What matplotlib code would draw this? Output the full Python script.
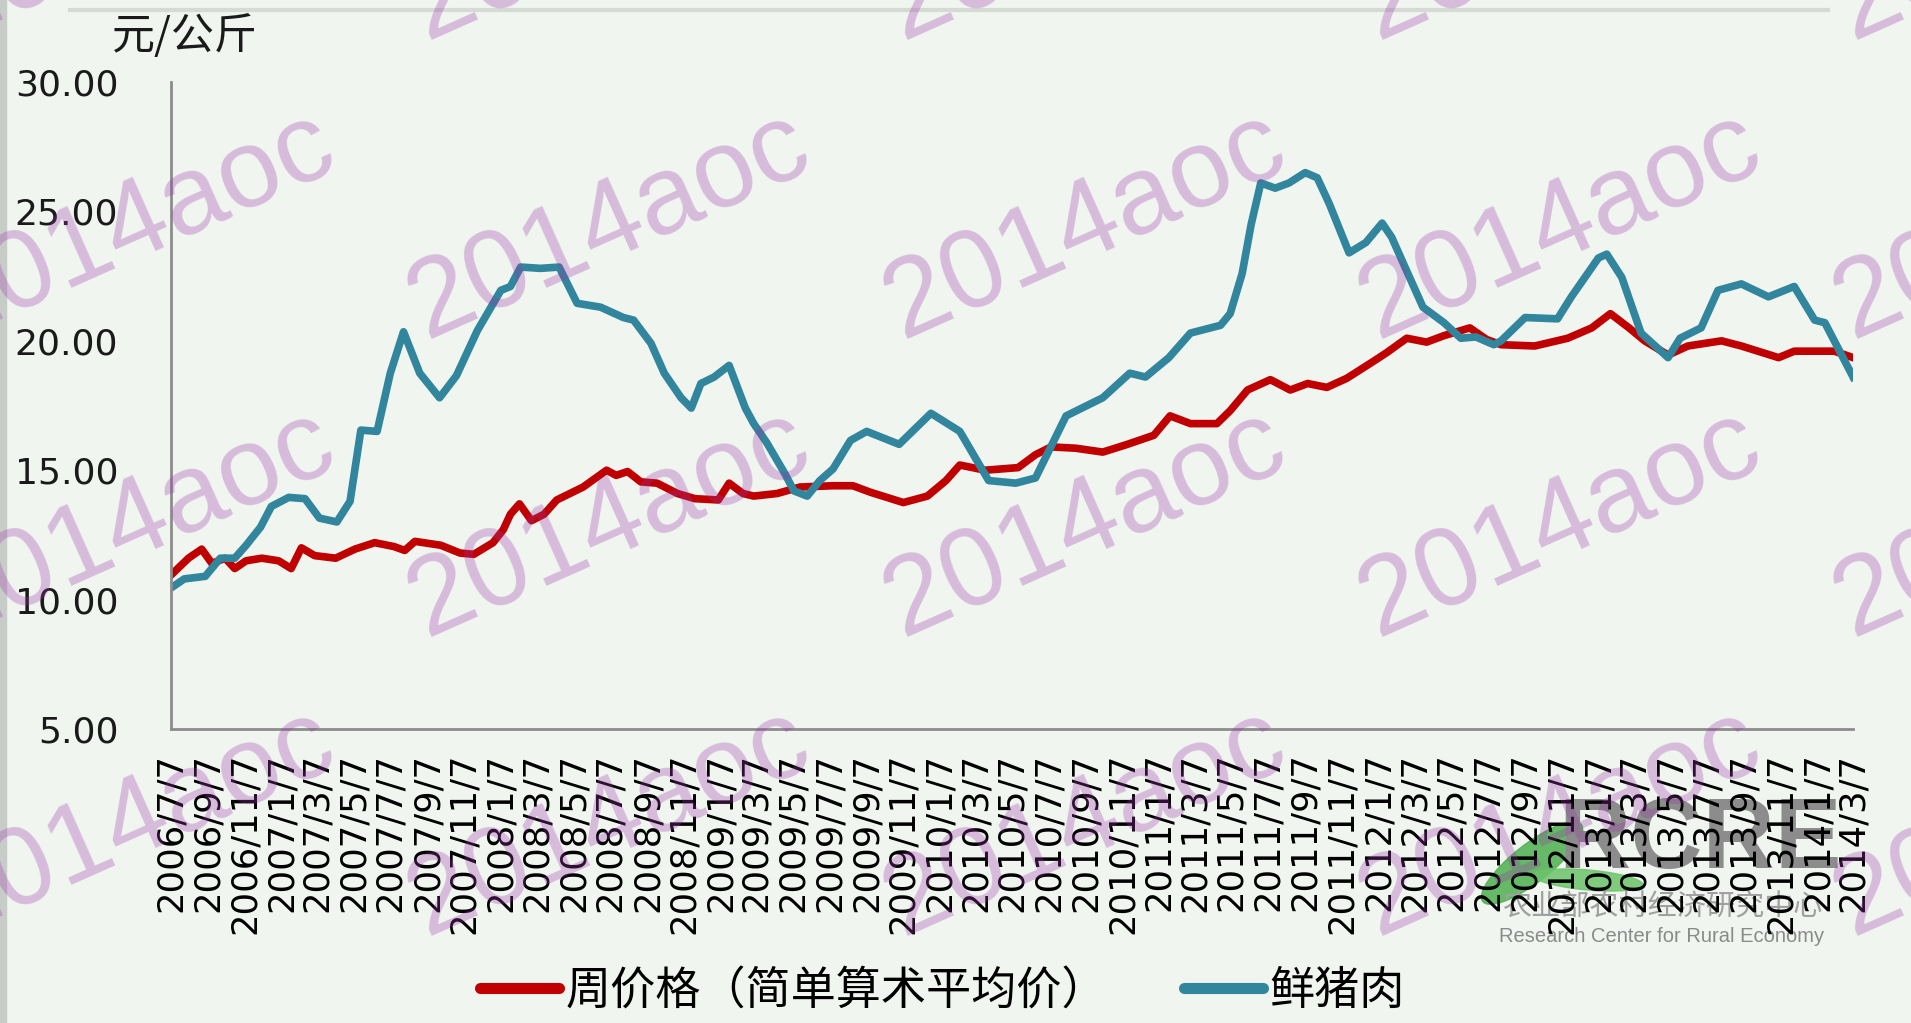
import matplotlib
matplotlib.use('Agg')
import matplotlib.pyplot as plt
import pandas as pd
from matplotlib.patches import Ellipse, Rectangle
from matplotlib.lines import Line2D
from matplotlib.transforms import IdentityTransform

# weekly pork prices
pork_dates = ['2006-07-07', '2006-07-29', '2006-09-02', '2006-09-27', '2006-10-21', '2006-11-09',
              '2006-12-03', '2006-12-21', '2007-01-19', '2007-02-15', '2007-03-11', '2007-04-09',
              '2007-05-01', '2007-05-19', '2007-06-15', '2007-07-07', '2007-07-29', '2007-08-25',
              '2007-09-27', '2007-10-25', '2007-11-29', '2008-01-07', '2008-01-23', '2008-02-09',
              '2008-03-13', '2008-04-13', '2008-05-13', '2008-06-21', '2008-07-29', '2008-08-15',
              '2008-09-13', '2008-10-05', '2008-11-02', '2008-11-19', '2008-12-05', '2008-12-27',
              '2009-01-21', '2009-02-17', '2009-03-03', '2009-03-25', '2009-04-23', '2009-05-09',
              '2009-05-31', '2009-06-21', '2009-07-13', '2009-08-11', '2009-09-07', '2009-10-31',
              '2009-12-23', '2010-02-09', '2010-03-29', '2010-05-13', '2010-06-15', '2010-08-05',
              '2010-10-05', '2010-11-19', '2010-12-15', '2011-01-23', '2011-02-28', '2011-04-19',
              '2011-05-05', '2011-05-25', '2011-06-09', '2011-06-25', '2011-07-19', '2011-08-11',
              '2011-09-07', '2011-09-27', '2011-10-17', '2011-11-19', '2011-12-17', '2012-01-13',
              '2012-01-29', '2012-02-21', '2012-03-21', '2012-04-25', '2012-05-23', '2012-06-17',
              '2012-07-17', '2012-07-29', '2012-09-07', '2012-10-31', '2012-11-23', '2013-01-07',
              '2013-01-21', '2013-02-15', '2013-03-19', '2013-05-03', '2013-05-23', '2013-06-27',
              '2013-07-25', '2013-09-02', '2013-10-17', '2013-11-29', '2014-01-02', '2014-01-19',
              '2014-03-07']
pork_vals = [10.45, 10.8, 10.9, 11.6, 11.6, 12.1,
             12.8, 13.6, 13.95, 13.9, 13.15, 13.0,
             13.8, 16.55, 16.5, 18.75, 20.35, 18.75,
             17.8, 18.65, 20.4, 21.95, 22.1, 22.85,
             22.8, 22.85, 21.45, 21.3, 20.9, 20.8,
             19.9, 18.75, 17.8, 17.4, 18.35, 18.6,
             19.05, 17.4, 16.8, 16.05, 14.9, 14.2,
             14.0, 14.6, 15.05, 16.15, 16.5, 16.0,
             17.2, 16.5, 14.6, 14.5, 14.7, 17.1,
             17.8, 18.75, 18.6, 19.35, 20.3, 20.6,
             21.05, 22.6, 24.5, 26.1, 25.9, 26.1,
             26.5, 26.3, 25.3, 23.4, 23.8, 24.55,
             24.0, 22.8, 21.3, 20.7, 20.1, 20.15,
             19.85, 20.0, 20.9, 20.85, 21.7, 23.2,
             23.35, 22.45, 20.3, 19.35, 20.1, 20.5,
             21.95, 22.2, 21.7, 22.1, 20.8, 20.7,
             18.6]

# weekly average price (simple arithmetic mean)
avg_dates = ['2006-07-07', '2006-08-05', '2006-08-27', '2006-09-13', '2006-10-05', '2006-10-21',
             '2006-11-09', '2006-12-05', '2007-01-02', '2007-01-23', '2007-02-09', '2007-03-03',
             '2007-04-07', '2007-05-09', '2007-06-11', '2007-07-13', '2007-07-31', '2007-08-17',
             '2007-09-29', '2007-10-31', '2007-11-23', '2007-12-25', '2008-01-11', '2008-01-23',
             '2008-02-07', '2008-02-27', '2008-03-19', '2008-04-09', '2008-05-23', '2008-07-01',
             '2008-07-17', '2008-08-05', '2008-08-27', '2008-09-23', '2008-10-27', '2008-11-25',
             '2009-01-03', '2009-01-21', '2009-02-13', '2009-03-03', '2009-04-11', '2009-05-19',
             '2009-07-13', '2009-08-15', '2009-09-13', '2009-11-07', '2009-12-17', '2010-01-17',
             '2010-02-09', '2010-03-23', '2010-05-17', '2010-06-15', '2010-07-11', '2010-08-21',
             '2010-10-05', '2010-11-15', '2010-12-29', '2011-01-25', '2011-02-28', '2011-04-13',
             '2011-05-05', '2011-06-03', '2011-07-11', '2011-08-13', '2011-09-11', '2011-10-13',
             '2011-11-15', '2011-12-29', '2012-01-21', '2012-02-23', '2012-03-27', '2012-04-25',
             '2012-06-07', '2012-07-05', '2012-07-29', '2012-09-23', '2012-11-17', '2012-12-27',
             '2013-01-27', '2013-02-27', '2013-03-25', '2013-05-03', '2013-06-05', '2013-07-31',
             '2013-09-02', '2013-11-03', '2013-11-29', '2014-02-04', '2014-03-07']
avg_vals = [10.95, 11.6, 11.95, 11.4, 11.6, 11.2,
            11.5, 11.6, 11.5, 11.2, 12.0, 11.7,
            11.6, 11.95, 12.2, 12.05, 11.9, 12.25,
            12.1, 11.8, 11.75, 12.2, 12.7, 13.3,
            13.7, 13.05, 13.3, 13.85, 14.35, 15.0,
            14.8, 14.95, 14.55, 14.5, 14.1, 13.9,
            13.85, 14.5, 14.1, 14.0, 14.1, 14.35,
            14.4, 14.4, 14.15, 13.75, 14.0, 14.6,
            15.2, 15.0, 15.1, 15.6, 15.9, 15.85,
            15.7, 16.0, 16.35, 17.1, 16.8, 16.8,
            17.3, 18.1, 18.5, 18.1, 18.35, 18.2,
            18.55, 19.2, 19.55, 20.1, 19.95, 20.2,
            20.5, 20.05, 19.85, 19.8, 20.1, 20.5,
            21.05, 20.5, 20.0, 19.45, 19.8, 20.0,
            19.8, 19.35, 19.6, 19.6, 19.35]

series_names = ['周价格（简单算术平均价）', '鲜猪肉']
y_ticks = [5, 10, 15, 20, 25, 30]
x_start, x_end = '2006-07-07', '2014-03-07'

bg = '#F0F5F0'
red = '#C00000'
teal = '#31859C'

fig = plt.figure(figsize=(19.11, 10.23), dpi=100, facecolor=bg)
ax = fig.add_axes([0.0895, 0.2874, 0.8802, 0.6324])
ax.set_facecolor(bg)

ax.plot(pd.to_datetime(avg_dates), avg_vals, color=red, lw=5.5,
        solid_joinstyle='round', label=series_names[0])
ax.plot(pd.to_datetime(pork_dates), pork_vals, color=teal, lw=5.5,
        solid_joinstyle='round', label=series_names[1])

ax.set_ylim(5, 30)
ax.set_yticks(y_ticks)
ax.set_yticklabels([f'{v:.2f}' for v in y_ticks])
ax.set_xlim(pd.Timestamp(x_start), pd.Timestamp(x_end))

tick_dates = pd.date_range(x_start, x_end, freq=pd.DateOffset(months=2))
ax.set_xticks(tick_dates)
ax.set_xticklabels([f'{d.year}/{d.month}/{d.day}' for d in tick_dates],
                   rotation=90, ha='center', va='top')

ax.tick_params(axis='y', length=0, pad=38, labelsize=26, colors='#1A1A1A')
ax.tick_params(axis='x', length=0, pad=17, labelsize=25.5, colors='#000000')
for s in ['top', 'right']:
    ax.spines[s].set_visible(False)
for s in ['left', 'bottom']:
    ax.spines[s].set_color('#8C8C8C')
    ax.spines[s].set_linewidth(2)

# unit label
fig.text(112 / 1911, 1 - 37 / 1023, '元/公斤', fontsize=31,
         family=['Noto Sans CJK SC', 'DejaVu Sans'], ha='left', va='center', color='#1A1A1A')

# legend
leg = ax.legend(loc='center', bbox_to_anchor=(0.493, 0.031), bbox_transform=fig.transFigure,
                ncol=2, frameon=False, handlelength=1.75, handletextpad=0.15, columnspacing=1.7,
                prop={'family': ['Noto Sans CJK SC', 'DejaVu Sans'], 'size': 32.5})
for h in leg.get_lines():
    h.set_linewidth(8)
    h.set_solid_capstyle('round')

# top rule and left strip of the slide
fig.add_artist(Line2D([70 / 1911, 1828 / 1911], [1 - 10 / 1023] * 2, transform=fig.transFigure,
                      color='#D5DAD5', lw=3))
fig.add_artist(Rectangle((0, 0), 6 / 1911, 1, transform=fig.transFigure, color='#C8CCC8', zorder=-2))

# logo
fig.add_artist(Ellipse((1532, 160), 125, 38, angle=38, transform=IdentityTransform(),
                       color='#4DAF4F', alpha=0.85, zorder=-1))
fig.add_artist(Ellipse((1588, 143), 110, 20, angle=-5, transform=IdentityTransform(),
                       color='#6CC36A', alpha=0.85, zorder=-1))
fig.text(1700 / 1911, 1 - 842 / 1023, 'RCRE', fontsize=72, fontweight='bold', color='#8C8C8C',
         family='Liberation Sans', ha='center', va='center', zorder=-1)
fig.text(1662 / 1911, 1 - 908 / 1023, '农业部农村经济研究中心', fontsize=21, color='#A0A0A0',
         family=['Noto Sans CJK SC'], ha='center', va='center', zorder=-1)
fig.text(1662 / 1911, 1 - 937 / 1023, 'Research Center for Rural Economy', fontsize=14.5,
         color='#8A8A8A', family='Liberation Sans', ha='center', va='center', zorder=-1)

# watermark grid
for yc in [-60, 185, 430, 675]:
    for xc in [110, 500, 890, 1280, 1670]:
        fig.text(xc / 1568, 1 - yc / 839, '2014aoc', rotation=24, fontsize=80,
                 color=(153 / 255, 55 / 255, 167 / 255), alpha=0.3, family='Liberation Sans',
                 ha='center', va='center', rotation_mode='anchor', zorder=10)

fig.savefig('out.png', dpi=100, facecolor=bg)
